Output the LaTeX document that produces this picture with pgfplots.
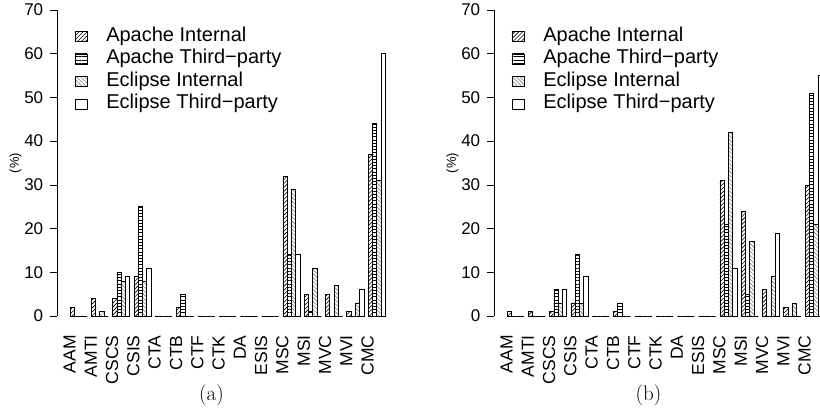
\documentclass[border=0pt]{standalone}
\usepackage{pgfplots}
\pgfplotsset{compat=1.18}
\usepackage{pgfplotstable}
\usetikzlibrary{patterns.meta}
\usepackage{fontspec}
\newfontfamily\helv{Liberation Sans}

\pgfplotstableread{
x  ai at ei et
3  2  0  0  0
8  4  0  1  0
13 4  10 8  9
18 9  25 8  11
23 0  0  0  0
28 2  5  0  0
33 0  0  0  0
38 0  0  0  0
43 0  0  0  0
48 0  0  0  0
53 32 14 29 14
58 5  1  11 0
63 5  0  7  0
68 1  0  3  6
73 37 44 31 60
}\tabA

\pgfplotstableread{
x  ai at ei et
3  1  0  0  0
8  1  0  0  0
13 1  6  3  6
18 3  14 3  9
23 0  0  0  0
28 1  3  0  0
33 0  0  0  0
38 0  0  0  0
43 0  0  0  0
48 0  0  0  0
53 31 21 42 11
58 24 5  17 0
63 6  0  9  19
68 2  0  3  0
73 30 51 21 55
}\tabB

\pgfplotsset{
  lg/.style={legend image code/.code={\draw[##1,line width=0.7bp] (0bp,-5bp) rectangle (12bp,5bp);}},
  sAI/.style={draw=black, line width=0.7bp, pattern={Lines[angle=45,distance=2.8bp,line width=0.6bp]}, pattern color=black, bar shift=-1.5, lg},
  sAT/.style={draw=black, line width=0.7bp, pattern={Lines[angle=0,distance=3.2bp,line width=0.6bp]}, pattern color=black, bar shift=-0.5, lg},
  sEI/.style={draw=black, line width=0.7bp, pattern={Lines[angle=-45,distance=2.8bp,line width=0.6bp]}, pattern color=black!50, bar shift=0.5, lg},
  sET/.style={draw=black, line width=0.7bp, fill=white, bar shift=1.5, lg},
  panel/.style={
    scale only axis, width=336.1bp, height=330.4bp,
    xmin=-1.96, xmax=76.96, ymin=-2.8, ymax=72.8,
    clip=false,
    axis lines*=left, axis line style={draw=none},
    ybar, bar width=1,
    ytick={0,10,...,70}, tick align=outside, major tick length=7bp,
    ytick style={black, line width=0.7bp},
    xtick={3,8,...,73},
    xticklabels={AAM,AMTI,CSCS,CSIS,CTA,CTB,CTF,CTK,DA,ESIS,MSC,MSI,MVC,MVI,CMC},
    xtick style={draw=none},
    xticklabel style={rotate=90, anchor=east, inner sep=0pt, yshift=9bp, font=\helv\fontsize{17.5bp}{17.5bp}\selectfont},
    /pgf/number format/assume math mode=true,
    yticklabel style={font=\helv\fontsize{17bp}{17bp}\selectfont, inner sep=0pt, xshift=-7bp},
    every axis y label/.style={at={(rel axis cs:0,0.5)}, rotate=90, anchor=center, yshift=42bp, font=\helv\fontsize{13bp}{13bp}\selectfont},
    ylabel={(\%)},
    legend cell align=left,
    legend style={draw=none, fill=none, at={(rel axis cs:0,1)}, anchor=north west, xshift=14bp, yshift=-25bp,
      font=\helv\fontsize{20bp}{22bp}\selectfont, row sep=0bp, column sep=10bp,
      nodes={text height=14bp, text depth=4.2bp, inner ysep=2.2bp, inner xsep=9bp}},
  }
}

\begin{document}
\begin{tikzpicture}
\useasboundingbox (0,0) rectangle (820bp,412bp);
\clip (0,0) rectangle (820bp,412bp);
\begin{axis}[panel, at={(57.4bp,83.8bp)}, anchor=south west]
\addplot[sAI] table[x=x,y=ai] {\tabA};
\addplot[sAT] table[x=x,y=at] {\tabA};
\addplot[sEI] table[x=x,y=ei] {\tabA};
\addplot[sET] table[x=x,y=et] {\tabA};
\legend{Apache Internal, Apache Third−party, Eclipse Internal, Eclipse Third−party}
\draw[line width=0.7bp] (axis cs:-1.96,0) -- (axis cs:-1.96,70);
\end{axis}
\begin{axis}[panel, at={(494.4bp,83.8bp)}, anchor=south west]
\addplot[sAI] table[x=x,y=ai] {\tabB};
\addplot[sAT] table[x=x,y=at] {\tabB};
\addplot[sEI] table[x=x,y=ei] {\tabB};
\addplot[sET] table[x=x,y=et] {\tabB};
\legend{Apache Internal, Apache Third−party, Eclipse Internal, Eclipse Third−party}
\draw[line width=0.7bp] (axis cs:-1.96,0) -- (axis cs:-1.96,70);
\end{axis}
\node at (211.5bp,16.5bp) {\fontsize{21bp}{21bp}\selectfont (a)};
\node at (648.5bp,16.5bp) {\fontsize{21bp}{21bp}\selectfont (b)};
\end{tikzpicture}
\end{document}
